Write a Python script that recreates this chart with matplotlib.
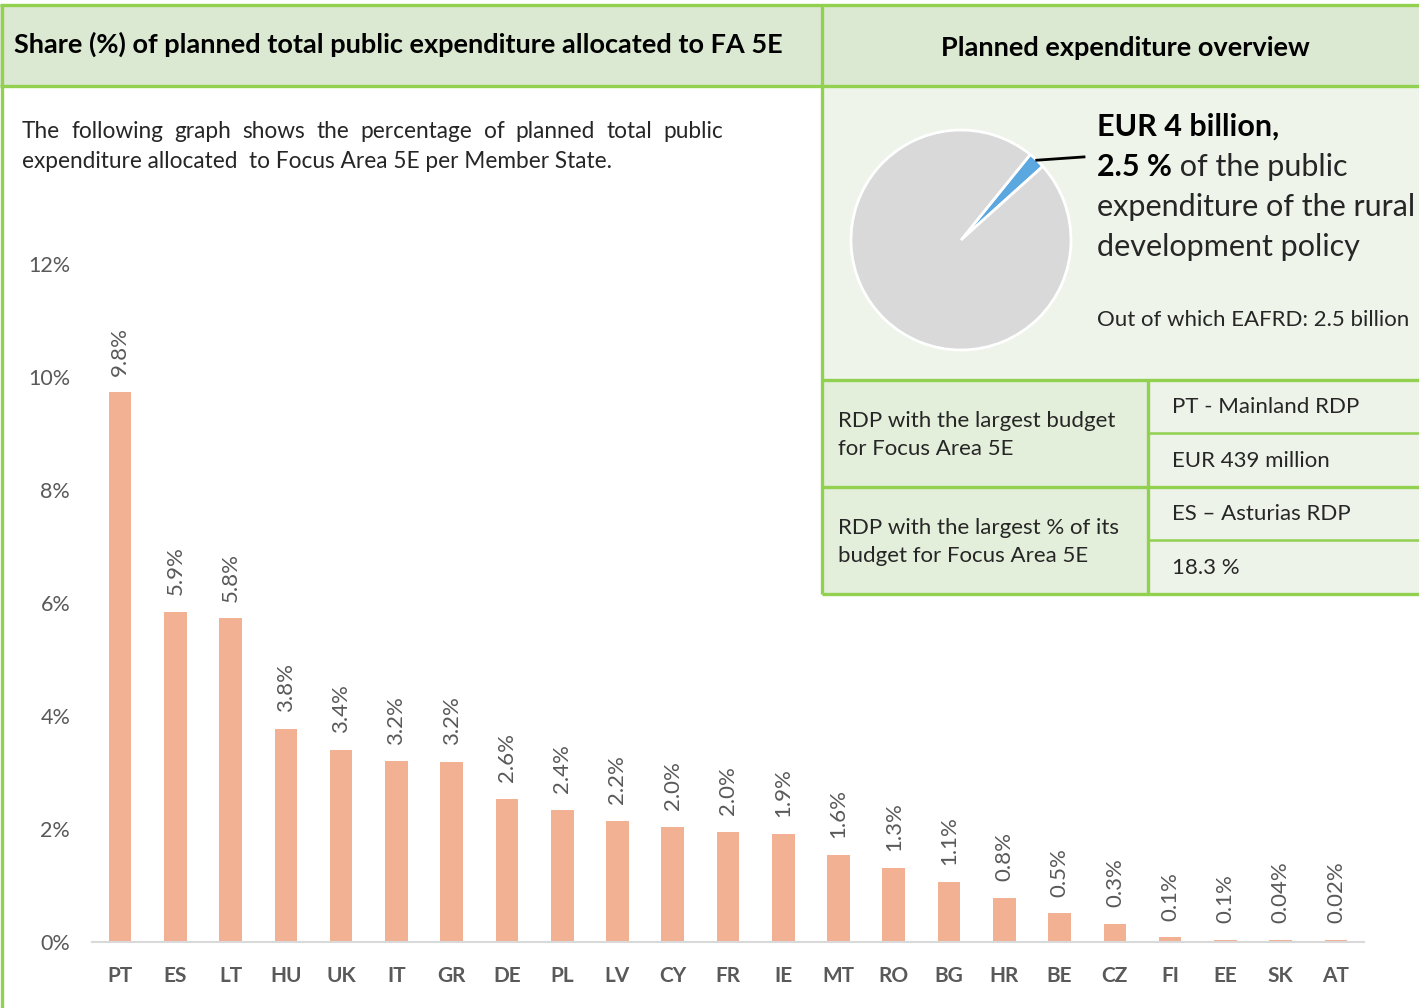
import numpy as np
import matplotlib
matplotlib.use("Agg")
import matplotlib.pyplot as plt
from matplotlib.patches import Rectangle

# ---------------- data ----------------
countries = ['PT', 'ES', 'LT', 'HU', 'UK', 'IT', 'GR', 'DE', 'PL', 'LV', 'CY', 'FR',
             'IE', 'MT', 'RO', 'BG', 'HR', 'BE', 'CZ', 'FI', 'EE', 'SK', 'AT']
shares = [9.73, 5.84, 5.73, 3.77, 3.40, 3.20, 3.19, 2.53, 2.34, 2.14, 2.04, 1.95,
          1.91, 1.54, 1.31, 1.06, 0.78, 0.51, 0.32, 0.08, 0.04, 0.04, 0.04]
share_labels = ['9.8%', '5.9%', '5.8%', '3.8%', '3.4%', '3.2%', '3.2%', '2.6%', '2.4%',
                '2.2%', '2.0%', '2.0%', '1.9%', '1.6%', '1.3%', '1.1%', '0.8%', '0.5%',
                '0.3%', '0.1%', '0.1%', '0.04%', '0.02%']
y_ticks = [0, 2, 4, 6, 8, 10, 12]
y_tick_labels = ['0%', '2%', '4%', '6%', '8%', '10%', '12%']
pie_values = [2.5, 97.5]          # FA 5E share vs rest
pie_colors = ['#5BA7E0', '#D9D9D9']

title_left = "Share (%) of planned total public expenditure allocated to FA 5E"
title_right = "Planned expenditure overview"
intro_line1 = "The following graph shows the percentage of planned total public"
intro_line2 = "expenditure allocated  to Focus Area 5E per Member State."
table_left = ["RDP with the largest budget\nfor Focus Area 5E",
              "RDP with the largest % of its\nbudget for Focus Area 5E"]
table_right = ["PT - Mainland RDP", "EUR 439 million", "ES \u2013 Asturias RDP", "18.3 %"]

FONT = ['Lato', 'DejaVu Sans']
plt.rcParams['font.family'] = FONT

W, H = 1419, 1008
fig = plt.figure(figsize=(W / 100, H / 100), dpi=100)
fig.patch.set_facecolor('white')

# background / layout axes in pixel coordinates
bg = fig.add_axes([0, 0, 1, 1])
bg.set_xlim(0, W)
bg.set_ylim(H, 0)
bg.axis('off')

GREEN = '#92D050'
HEAD = '#DCE9D2'
PANEL = '#EEF4EA'
TLEFT = '#E3EFDA'
TRIGHT = '#EEF3EA'

def rect(x0, y0, x1, y1, fc):
    bg.add_patch(Rectangle((x0, y0), x1 - x0, y1 - y0, facecolor=fc, edgecolor='none', zorder=0))

rect(0, 5, 822, 86, HEAD)
rect(822, 5, W, 86, HEAD)
rect(822, 86, W, 380, PANEL)
rect(822, 380, 1148, 594, TLEFT)
rect(1148, 380, W, 594, TRIGHT)

def hline(y, x0, x1, lw=2.4):
    bg.plot([x0, x1], [y, y], color=GREEN, lw=lw, solid_capstyle='butt', zorder=1)

def vline(x, y0, y1, lw=2.4):
    bg.plot([x, x], [y0, y1], color=GREEN, lw=lw, solid_capstyle='butt', zorder=1)

hline(5, 0, W)
hline(86, 0, W)
vline(1.5, 4, H)
vline(822, 4, 594)
hline(380, 822, W)
hline(487, 822, W)
hline(594, 822, W)
vline(1148, 380, 594)
hline(433, 1148, W, lw=1.8)
hline(540, 1148, W, lw=1.8)

# headers
bg.text(14, 44, title_left, fontsize=19.5, fontweight='bold', color='black', va='center', ha='left')
bg.text(1125, 48, title_right, fontsize=19.5, fontweight='bold', color='black', va='center', ha='center')

# intro paragraph (first line justified)
fig.canvas.draw()
renderer = fig.canvas.get_renderer()
TXT = '#262626'
words = intro_line1.split(' ')
x_left, x_right = 22, 723
objs = []
widths = []
for w_ in words:
    t = bg.text(0, 131, w_, fontsize=16.3, color=TXT, va='center', ha='left')
    objs.append(t)
    widths.append(t.get_window_extent(renderer).width)
gap = (x_right - x_left - sum(widths)) / (len(words) - 1)
xx = x_left
for t, wd in zip(objs, widths):
    t.set_x(xx)
    xx += wd + gap
bg.text(x_left, 161, intro_line2, fontsize=16.3, color=TXT, va='center', ha='left')

# pie overview text
bg.text(1097, 127, "EUR 4 billion,", fontsize=22, fontweight='bold', color='black', va='center')
t2 = bg.text(1097, 167, "2.5 %", fontsize=22, fontweight='bold', color='black', va='center')
bg.annotate(" of the public", xy=(1, 0), xycoords=t2, va='bottom', ha='left', fontsize=22, color=TXT)
bg.text(1097, 207, "expenditure of the rural", fontsize=22, color=TXT, va='center')
bg.text(1097, 247, "development policy", fontsize=22, color=TXT, va='center')
bg.text(1097, 320, "Out of which EAFRD: 2.5 billion", fontsize=16, color=TXT, va='center')

# table text
bg.text(838, 435, table_left[0], fontsize=16, color=TXT, va='center', linespacing=1.55)
bg.text(838, 542, table_left[1], fontsize=16, color=TXT, va='center', linespacing=1.55)
for yy, s in zip([407, 461, 514, 568], table_right):
    bg.text(1172, yy, s, fontsize=16, color=TXT, va='center')

# ---------------- bar chart ----------------
ax_l, ax_r, ax_b, ax_t = 92.4, 1363.6, 942, 264
ax = fig.add_axes([ax_l / W, (H - ax_b) / H, (ax_r - ax_l) / W, (ax_b - ax_t) / H])
ax.set_facecolor('none')
x = np.arange(len(countries))
ax.bar(x, shares, width=0.41, color='#F2B193', edgecolor='none', zorder=2)
ax.set_xlim(-0.5, len(countries) - 0.5)
ax.set_ylim(0, 12)
for s in ['top', 'right', 'left']:
    ax.spines[s].set_visible(False)
ax.spines['bottom'].set_color('#D9D9D9')
ax.spines['bottom'].set_linewidth(1.5)
ax.set_yticks(y_ticks)
ax.set_yticklabels(y_tick_labels, fontsize=15.5, color='#595959')
ax.tick_params(axis='y', length=0, pad=16)
ax.set_xticks(x)
ax.set_xticklabels(countries, fontsize=15, fontweight='bold', color='#595959')
ax.tick_params(axis='x', length=0, pad=17)
for xi, v, lab in zip(x, shares, share_labels):
    ax.annotate(lab, xy=(xi, v), xytext=(0, 12), textcoords='offset points',
                rotation=90, ha='center', va='bottom', fontsize=16, color='#595959')

# ---------------- pie ----------------
cx, cy, r = 961, 240, 110
axp = fig.add_axes([(cx - r) / W, (H - cy - r) / H, 2 * r / W, 2 * r / H])
wedges, _ = axp.pie(pie_values, colors=pie_colors, startangle=42, counterclock=True,
                    wedgeprops=dict(edgecolor='white', linewidth=2.0))
axp.set_xlim(-1, 1)
axp.set_ylim(-1, 1)
axp.axis('off')
w0 = wedges[0]
mid = np.deg2rad((w0.theta1 + w0.theta2) / 2)
sx, sy = np.cos(mid), np.sin(mid)
axp.plot([sx, sx + 0.43], [sy, sy + 0.03], color='black', lw=2, clip_on=False)

fig.savefig('out.png', dpi=100)
